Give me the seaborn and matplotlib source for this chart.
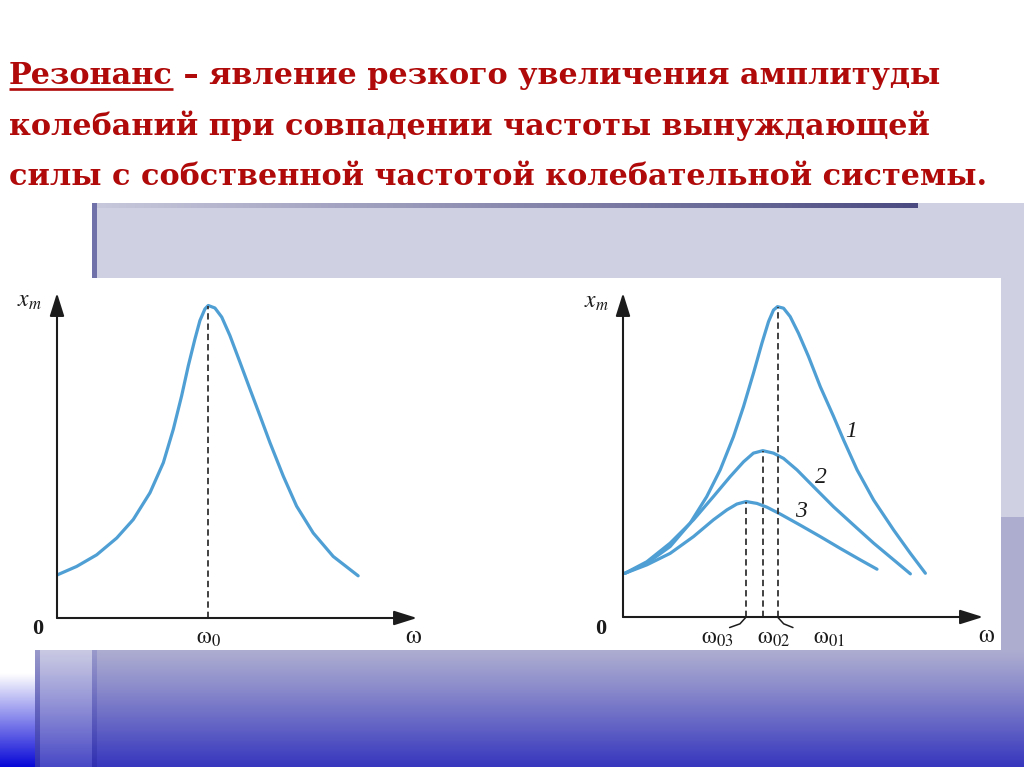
import numpy as np
import pandas as pd
import matplotlib
matplotlib.use("Agg")
import matplotlib.pyplot as plt
import seaborn as sns

# ---------------- data ----------------
title_word = "Резонанс"
title_rest = " – явление резкого увеличения амплитуды"
title_lines = ["колебаний при совпадении частоты вынуждающей",
               "силы с собственной частотой колебательной системы."]

# left diagram: single resonance curve (omega in units of omega0, x_m in units of peak)
omega_left = [0.002, 0.130, 0.262, 0.395, 0.504, 0.615, 0.703, 0.769, 0.824, 0.868, 0.912,
              0.945, 0.978, 1.000, 1.044, 1.089, 1.143, 1.210, 1.276, 1.342, 1.408, 1.496,
              1.584, 1.694, 1.826, 1.991]
xm_left = [0.138, 0.165, 0.202, 0.256, 0.315, 0.401, 0.497, 0.604, 0.711, 0.807, 0.893,
           0.952, 0.989, 1.000, 0.992, 0.963, 0.904, 0.818, 0.732, 0.647, 0.561, 0.454,
           0.358, 0.272, 0.197, 0.135]
omega0_left = 1.0

# right diagram: three curves with different damping
omega_c1 = [0.013, 0.154, 0.305, 0.434, 0.542, 0.629, 0.715, 0.780, 0.844, 0.899, 0.942,
            0.974, 1.000, 1.039, 1.082, 1.136, 1.201, 1.277, 1.363, 1.428, 1.515, 1.622,
            1.752, 1.860, 1.957]
xm_c1 = [0.141, 0.173, 0.227, 0.302, 0.388, 0.474, 0.581, 0.678, 0.785, 0.882, 0.952,
         0.989, 1.000, 0.995, 0.968, 0.914, 0.839, 0.742, 0.646, 0.570, 0.474, 0.377,
         0.280, 0.205, 0.141]
omega_c2 = [0.013, 0.154, 0.305, 0.456, 0.585, 0.693, 0.780, 0.844, 0.905, 0.974, 1.039,
            1.126, 1.233, 1.363, 1.493, 1.622, 1.752, 1.860]
xm_c2 = [0.141, 0.178, 0.238, 0.313, 0.388, 0.452, 0.500, 0.528, 0.536, 0.528, 0.511,
         0.474, 0.420, 0.355, 0.296, 0.238, 0.184, 0.139]
omega_c3 = [0.013, 0.154, 0.305, 0.456, 0.585, 0.672, 0.737, 0.797, 0.867, 0.931, 1.017,
            1.147, 1.277, 1.406, 1.536, 1.644]
xm_c3 = [0.141, 0.168, 0.205, 0.259, 0.313, 0.345, 0.364, 0.372, 0.366, 0.354, 0.332,
         0.296, 0.259, 0.221, 0.184, 0.154]
curve_names = ["1", "2", "3"]
res_omegas = [1.000, 0.905, 0.797]        # omega01, omega02, omega03
res_peaks = [1.000, 0.536, 0.372]
res_labels = [r"$\mathrm{\omega}_{01}$", r"$\mathrm{\omega}_{02}$", r"$\mathrm{\omega}_{03}$"]

# ---------------- style ----------------
sns.set_theme(style="white")
plt.rcParams['font.family'] = ['Liberation Serif', 'DejaVu Serif']
plt.rcParams['mathtext.fontset'] = 'stix'

W, H = 1024, 767
fig = plt.figure(figsize=(W / 100, H / 100), dpi=100)
fig.patch.set_facecolor("white")

bg = fig.add_axes([0, 0, 1, 1])
bg.set_xlim(0, W)
bg.set_ylim(H, 0)
bg.axis('off')


def hexrgb(c):
    c = c.lstrip('#')
    return np.array([int(c[i:i + 2], 16) / 255 for i in (0, 2, 4)])


def vgrad(x0, x1, y0, y1, ctop, cbot, hold=0.0, gamma=1.0):
    n = 200
    t = np.linspace(0, 1, n)
    t = np.clip((t - hold) / (1 - hold), 0, 1) ** gamma
    a, b = hexrgb(ctop), hexrgb(cbot)
    img = (a[None, :] * (1 - t[:, None]) + b[None, :] * t[:, None])[:, None, :]
    bg.imshow(img, extent=(x0, x1, y1, y0), aspect='auto', origin='upper',
              interpolation='bilinear', zorder=1)


def hgrad(x0, x1, y0, y1, cleft, cright):
    n = 200
    t = np.linspace(0, 1, n)
    a, b = hexrgb(cleft), hexrgb(cright)
    img = (a[None, :] * (1 - t[:, None]) + b[None, :] * t[:, None])[None, :, :]
    bg.imshow(img, extent=(x0, x1, y1, y0), aspect='auto', origin='upper',
              interpolation='bilinear', zorder=2)


# lavender panel at the top and right
bg.add_patch(plt.Rectangle((92, 203), W - 92, 75, color="#cfd0e2", zorder=1, lw=0))
bg.add_patch(plt.Rectangle((1001, 278), W - 1001, 239, color="#cfd0e2", zorder=1, lw=0))
bg.add_patch(plt.Rectangle((1001, 517), W - 1001, 133, color="#adadd0", zorder=1, lw=0))
hgrad(97, 918, 203, 208, "#c8c8dc", "#4b4b82")
bg.add_patch(plt.Rectangle((92, 203), 5, 75, color="#7071a9", zorder=2, lw=0))

# bottom gradient band
vgrad(97, W, 650, H, "#adadd1", "#3636be", gamma=1.1)
vgrad(40, 92, 650, H, "#c9c9e3", "#4848c6", gamma=1.1)
vgrad(35, 40, 650, H, "#9a9acb", "#2f2fb2")
vgrad(92, 97, 650, H, "#9a9acb", "#2f2fb2")
vgrad(0, 35, 650, H, "#ffffff", "#0808d8", hold=0.2)
bg.set_xlim(0, W)
bg.set_ylim(H, 0)

# ---------------- title ----------------
red = "#b00a0a"
tfam = ['DejaVu Serif']
renderer = fig.canvas.get_renderer()
probe = bg.text(10, 85, title_word + title_rest, fontsize=20, fontweight='bold',
                family=tfam, va='baseline', ha='left')
pw = probe.get_window_extent(renderer).width
probe.remove()
tsize = 20 * 930.0 / pw

t0 = bg.text(9, 84, title_word, fontsize=tsize, fontweight='bold', color=red,
             family=tfam, va='baseline', ha='left', zorder=5)
bb = t0.get_window_extent(renderer)
bg.text(bb.x1, 84, title_rest, fontsize=tsize, fontweight='bold', color=red,
        family=tfam, va='baseline', ha='left', zorder=5)
bg.plot([bb.x0, bb.x1], [89, 89], color=red, lw=1.9, solid_capstyle='butt', zorder=5)
for i, line in enumerate(title_lines):
    bg.text(9, 135 + 50 * i, line, fontsize=tsize, fontweight='bold', color=red,
            family=tfam, va='baseline', ha='left', zorder=5)

# ---------------- diagrams ----------------
curve_color = "#4f9fd4"
axis_color = "#1c1c1c"
curve_kw = dict(color=curve_color, lw=2.3, sort=False, estimator=None,
                solid_joinstyle='round', solid_capstyle='round')


def make_axes(left, right, bottom, top, xmax, ymax):
    ax = fig.add_axes([left / W, 1 - bottom / H, (right - left) / W, (bottom - top) / H])
    ax.set_xlim(0, xmax)
    ax.set_ylim(0, ymax)
    ax.axis('off')
    ax.patch.set_alpha(0)
    arrow = dict(arrowstyle='-|>,head_length=0.7,head_width=0.22', color=axis_color,
                 lw=1.5, mutation_scale=20, shrinkA=0, shrinkB=0)
    ax.annotate('', xy=(xmax, 0), xytext=(0, 0), arrowprops=arrow, annotation_clip=False)
    ax.annotate('', xy=(0, ymax), xytext=(0, 0), arrowprops=arrow, annotation_clip=False)
    return ax


axl = make_axes(57, 417, 618, 293, 2.38, 1.04)
dfl = pd.DataFrame({"omega": omega_left, "xm": xm_left})
sns.lineplot(data=dfl, x="omega", y="xm", ax=axl, **curve_kw)
axl.axis('off')
axl.plot([omega0_left, omega0_left], [0, max(xm_left)], ls=(0, (3.5, 2.2)),
         color="#333333", lw=1.3)
lab = dict(color="#1a1a1a", ha='center', va='center', clip_on=False)
axl.text(-0.13, -0.035, "0", fontsize=16, fontweight='bold', **lab)
axl.text(2.355, -0.062, r"$\mathrm{\omega}$", fontsize=18, **lab)
axl.text(omega0_left, -0.065, r"$\mathrm{\omega}_0$", fontsize=17, **lab)
axl.text(-0.18, 1.013, r"$x_m$", fontsize=17, **lab)

axr = make_axes(623, 983, 617, 293, 2.33, 1.044)
for om, xm in [(omega_c1, xm_c1), (omega_c2, xm_c2), (omega_c3, xm_c3)]:
    df = pd.DataFrame({"omega": om, "xm": xm})
    sns.lineplot(data=df, x="omega", y="xm", ax=axr, **curve_kw)
axr.axis('off')
for w0, pk in zip(res_omegas, res_peaks):
    axr.plot([w0, w0], [0, pk], ls=(0, (3.5, 2.2)), color="#333333", lw=1.3)
axr.text(-0.143, -0.039, "0", fontsize=16, fontweight='bold', **lab)
axr.text(2.35, -0.061, r"$\mathrm{\omega}$", fontsize=18, **lab)
axr.text(-0.17, 1.013, r"$x_m$", fontsize=17, **lab)
label_x = [1.33, 0.975, 0.61]
for lx, txt in zip(label_x, res_labels):
    axr.text(lx, -0.068, txt, fontsize=17, **lab)
# little leader strokes from the axis to the outer labels
axr.plot([0.797, 0.757, 0.69], [0.0, -0.022, -0.034], color=axis_color, lw=1.1, clip_on=False)
axr.plot([1.00, 1.04, 1.10], [0.0, -0.022, -0.034], color=axis_color, lw=1.1, clip_on=False)
# curve numbers
num_pos = [(1.474, 0.597), (1.28, 0.448), (1.15, 0.339)]
for (nx, ny), name in zip(num_pos, curve_names):
    axr.text(nx, ny, name, fontsize=17, style='italic', **lab)

fig.savefig("out.png", dpi=100)
